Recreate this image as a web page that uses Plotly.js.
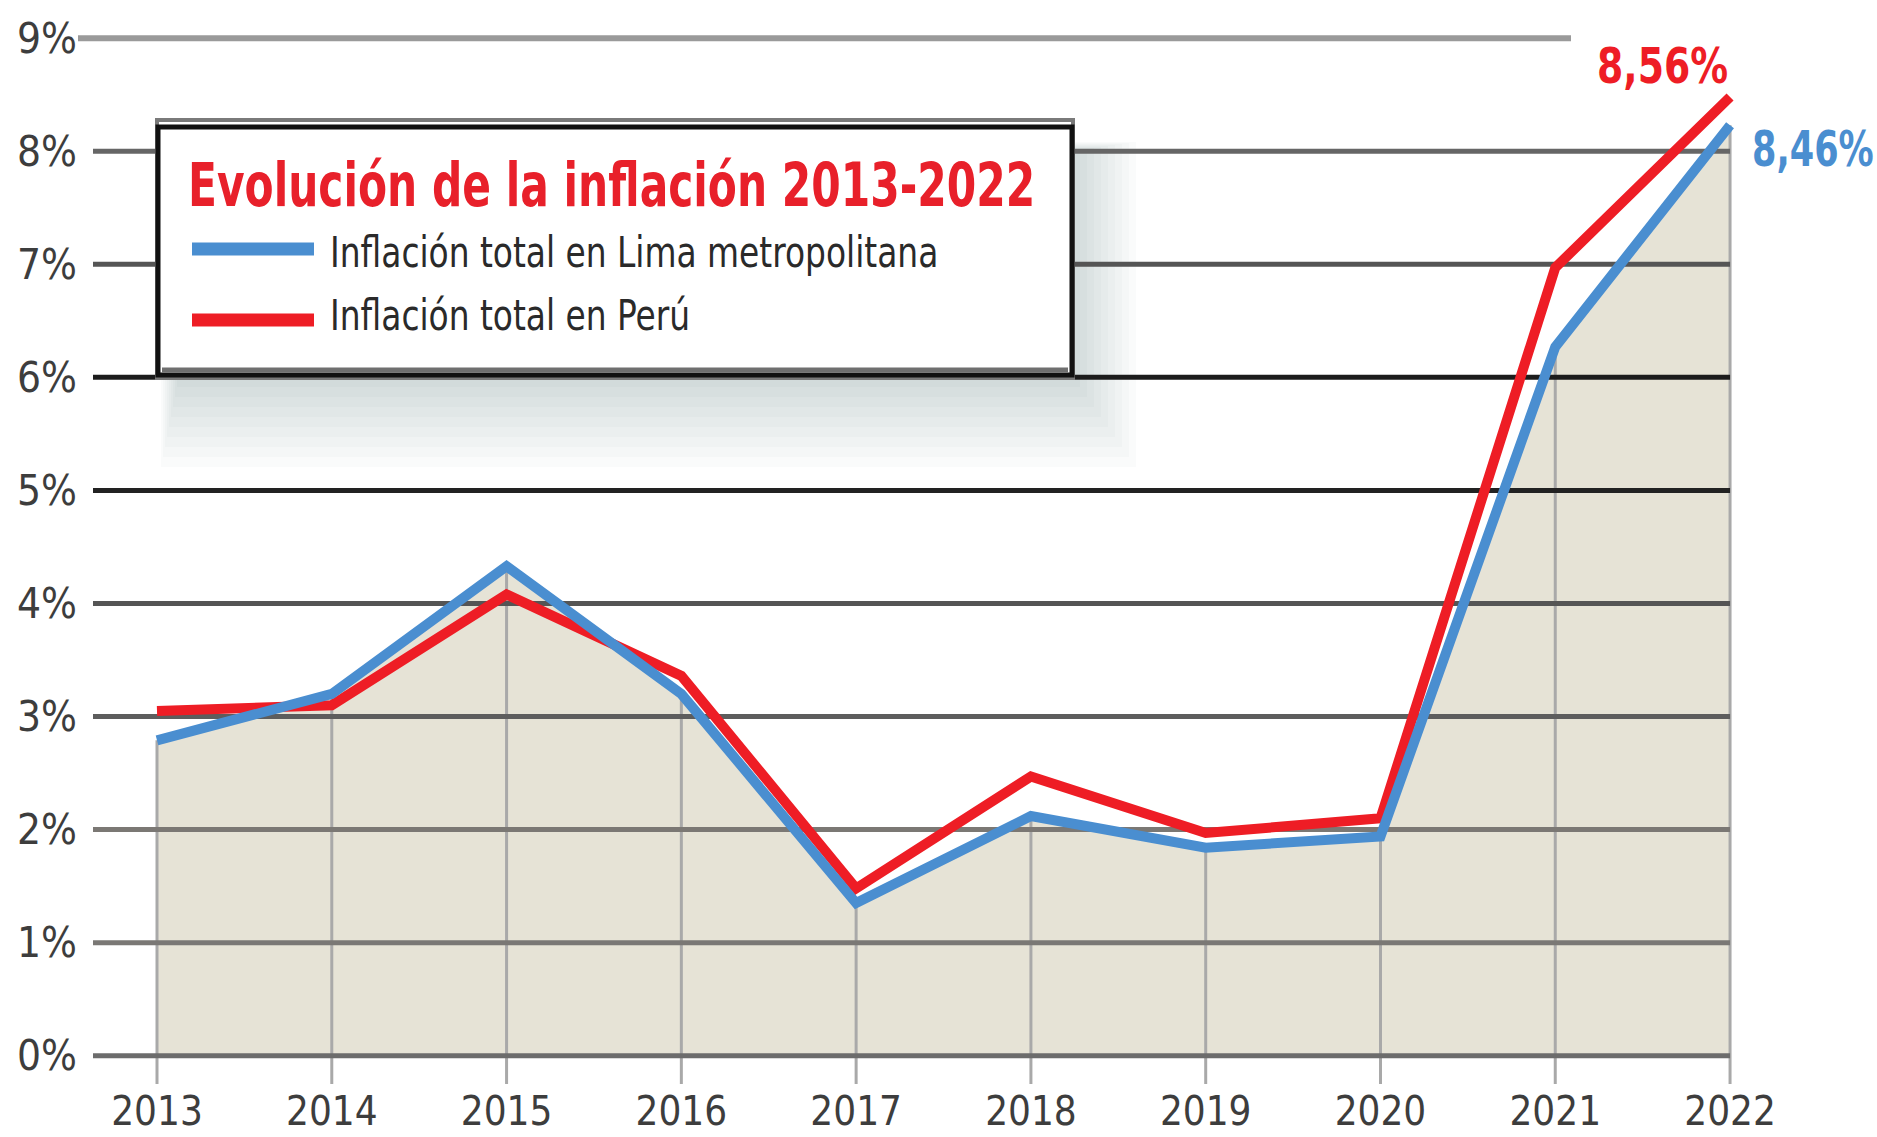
<!DOCTYPE html>
<html><head><meta charset="utf-8">
<script src="https://cdn.plot.ly/plotly-3.0.1.min.js"></script>
<style>html,body{margin:0;padding:0;background:#fff}#chart{width:1877px;height:1137px}</style>
</head><body><div id="chart"></div>
<script>
// ---- data ----
const years = [2013, 2014, 2015, 2016, 2017, 2018, 2019, 2020, 2021, 2022];
const limaMetropolitana = [2.79, 3.20, 4.33, 3.20, 1.35, 2.12, 1.84, 1.94, 6.27, 8.23];
const peru = [3.05, 3.10, 4.08, 3.36, 1.48, 2.47, 1.97, 2.10, 6.97, 8.48];
const yTickVals = [0, 1, 2, 3, 4, 5, 6, 7, 8, 9];
const yTickText = ['0%', '1%', '2%', '3%', '4%', '5%', '6%', '7%', '8%', '9%'];
const xTickText = ['2013', '2014', '2015', '2016', '2017', '2018', '2019', '2020', '2021', '2022'];
const seriesNames = ['Inflación total en Lima metropolitana', 'Inflación total en Perú'];
const endLabels = ['8,46%', '8,56%'];
const chartTitle = 'Evolución de la inflación 2013-2022';

// ---- geometry / style ----
const W = 1877, H = 1137;
const M = {l: 78, r: 130, t: 4, b: 53};
const XR = [2012.548, 2022.097];
const plotW = W - M.l - M.r, plotH = H - M.t - M.b;
const YR = [-0.25, -0.25 + plotH / 113.06];
const px2paperX = p => (p - M.l) / plotW;
const px2paperY = p => (H - M.b - p) / plotH;
const px2dataX = p => XR[0] + (p - M.l) / plotW * (XR[1] - XR[0]);

const FONT = '"DejaVu Sans Condensed", "Liberation Sans Narrow", "Roboto", sans-serif';
const BLUE = '#4a8ed0', RED = '#ee1d25', FILL = '#e6e3d6';

const gridLeft = px2dataX(93);
const gridColors = ['#6c6c6c', '#7a7875', '#7b7874', '#5d5d5d', '#555555', '#222222', '#1c1c1c', '#555555', '#666666', '#9a9a9a'];

const traces = [];
traces.push({x: years, y: limaMetropolitana, type: 'scatter', mode: 'lines', fill: 'tozeroy',
  fillcolor: FILL, line: {width: 0, color: FILL}, hoverinfo: 'skip', showlegend: false});
traces.push({x: years.flatMap(v => [v, v, null]), y: limaMetropolitana.flatMap(v => [YR[0], v, null]),
  type: 'scatter', mode: 'lines', line: {color: '#a9a9a9', width: 3}, hoverinfo: 'skip', showlegend: false});
yTickVals.forEach((v, i) => {
  const isTop = i === yTickVals.length - 1;
  traces.push({x: [isTop ? XR[0] : gridLeft, isTop ? px2dataX(1571) : years[years.length - 1]], y: [v, v],
    type: 'scatter', mode: 'lines', line: {color: gridColors[i], width: isTop ? 6 : 5},
    hoverinfo: 'skip', showlegend: false});
});
traces.push({x: years, y: peru, name: seriesNames[1], type: 'scatter', mode: 'lines',
  line: {color: RED, width: 10}, showlegend: false});
traces.push({x: years, y: limaMetropolitana, name: seriesNames[0], type: 'scatter', mode: 'lines',
  line: {color: BLUE, width: 10}, showlegend: false});

// legend box with soft shadow
const box = {x0: 157, x1: 1073, y0: 122, y1: 377};
const shapes = [];
const N = 9;
for (let k = N; k >= 1; k--) {
  shapes.push({type: 'rect', xref: 'paper', yref: 'paper', layer: 'below',
    x0: px2paperX(box.x0 + 4 + (N - k) * 2), x1: px2paperX(box.x1 + 7 * k),
    y0: px2paperY(box.y0 + 20 + (N - k) * 1), y1: px2paperY(box.y1 + 10 * k),
    fillcolor: 'rgba(60,65,75,0.022)', line: {width: 0}});
}
shapes.push({type: 'rect', xref: 'paper', yref: 'paper', layer: 'above',
  x0: px2paperX(box.x0), x1: px2paperX(box.x1), y0: px2paperY(box.y0 - 2), y1: px2paperY(box.y1 + 1),
  fillcolor: '#ffffff', line: {color: '#7a7a7a', width: 4}});
shapes.push({type: 'rect', xref: 'paper', yref: 'paper', layer: 'above',
  x0: px2paperX(box.x0 + 1), x1: px2paperX(box.x1 - 1), y0: px2paperY(box.y0 + 5), y1: px2paperY(box.y1 - 2),
  fillcolor: 'rgba(0,0,0,0)', line: {color: '#111111', width: 5}});
shapes.push({type: 'line', xref: 'paper', yref: 'paper', layer: 'above',
  x0: px2paperX(162), x1: px2paperX(1068), y0: px2paperY(370), y1: px2paperY(370),
  line: {color: '#6f6f6f', width: 5}});
shapes.push({type: 'line', xref: 'paper', yref: 'paper', layer: 'above',
  x0: px2paperX(192), x1: px2paperX(314), y0: px2paperY(249), y1: px2paperY(249),
  line: {color: BLUE, width: 13}});
shapes.push({type: 'line', xref: 'paper', yref: 'paper', layer: 'above',
  x0: px2paperX(192), x1: px2paperX(314), y0: px2paperY(320), y1: px2paperY(320),
  line: {color: RED, width: 13}});

const annotations = [
  {xref: 'paper', yref: 'paper', x: px2paperX(328), y: px2paperY(252), xanchor: 'left', yanchor: 'middle',
    text: seriesNames[0], showarrow: false, font: {family: FONT, size: 42, color: '#2a2a2a'}},
  {xref: 'paper', yref: 'paper', x: px2paperX(328), y: px2paperY(315), xanchor: 'left', yanchor: 'middle',
    text: seriesNames[1], showarrow: false, font: {family: FONT, size: 42, color: '#2a2a2a'}},
  {x: years[years.length - 1], y: peru[peru.length - 1], xanchor: 'right', yanchor: 'bottom', yshift: 0,
    text: endLabels[1], showarrow: false, font: {family: FONT, size: 50, color: RED, weight: 'bold'}},
  {x: years[years.length - 1], y: limaMetropolitana[limaMetropolitana.length - 1], xanchor: 'left', yanchor: 'middle',
    xshift: 20, yshift: -24, text: endLabels[0], showarrow: false, font: {family: FONT, size: 50, color: BLUE, weight: 'bold'}}
];

const layout = {
  width: W, height: H, margin: M,
  paper_bgcolor: '#ffffff', plot_bgcolor: '#ffffff',
  title: {text: chartTitle, xref: 'paper', x: px2paperX(188), xanchor: 'left',
    yref: 'container', y: 1 - 185 / H, yanchor: 'middle',
    font: {family: FONT, size: 60, color: '#e8202a', weight: 'bold'}},
  xaxis: {range: XR, tickvals: years, ticktext: xTickText, showgrid: false, zeroline: false, showline: false,
    ticks: '', tickfont: {family: FONT, size: 40, color: '#3d3d3d'}, fixedrange: true},
  yaxis: {range: YR, tickvals: yTickVals, ticktext: yTickText, showgrid: false, zeroline: false, showline: false,
    ticks: '', tickfont: {family: FONT, size: 42, color: '#3d3d3d'}, fixedrange: true},
  shapes: shapes, annotations: annotations, showlegend: false
};

function squeeze(el, s, anchor) {
  if (!el) return;
  const bb = el.getBBox();
  const ax = anchor === 'right' ? bb.x + bb.width : bb.x;
  const prev = el.getAttribute('transform') || '';
  el.setAttribute('transform', prev + ' translate(' + ax + ',0) scale(' + s + ',1) translate(' + (-ax) + ',0)');
}
Plotly.newPlot('chart', traces, layout, {staticPlot: true}).then(() => {
  squeeze(document.querySelector('.g-gtitle .gtitle'), 0.785, 'left');
  squeeze(document.querySelector('.annotation[data-index="0"] .annotation-text'), 0.87, 'left');
  squeeze(document.querySelector('.annotation[data-index="1"] .annotation-text'), 0.87, 'left');
  squeeze(document.querySelector('.annotation[data-index="2"] .annotation-text'), 0.84, 'right');
  squeeze(document.querySelector('.annotation[data-index="3"] .annotation-text'), 0.78, 'left');
});
</script></body></html>
